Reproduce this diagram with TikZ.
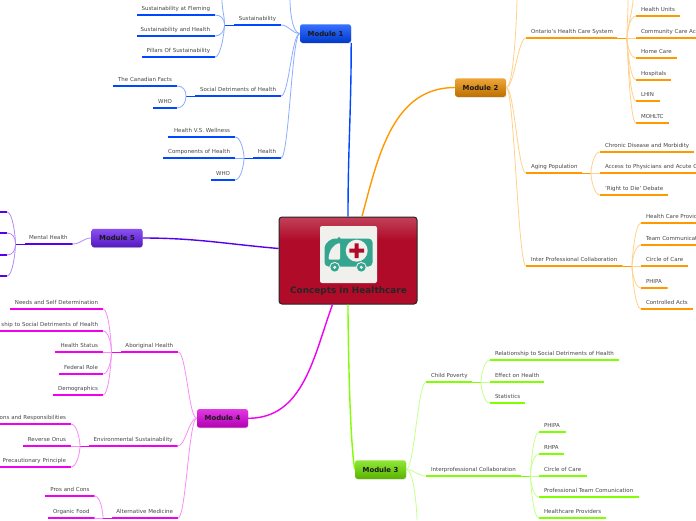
\documentclass[tikz,border=0pt]{standalone}
\usepackage{fontspec}
\setmainfont{DejaVu Sans}
\usepackage{xcolor}
\usetikzlibrary{shadows}
\definecolor{hcred}{RGB}{176,12,42}
\definecolor{hcteal}{RGB}{53,165,143}
\definecolor{hcpaper}{RGB}{240,240,236}
\definecolor{hcblue}{RGB}{0,72,255}
\definecolor{hcorange}{RGB}{255,153,0}
\definecolor{hcgreen}{RGB}{128,255,0}
\definecolor{hcmagenta}{RGB}{240,0,240}
\definecolor{hcpurple}{RGB}{85,0,238}
\pgfdeclareverticalshading{hcgloss}{100bp}{color(0bp)=(hcred);color(62bp)=(hcred);color(75bp)=(hcred!78!white);color(100bp)=(hcred!78!white)}
\begin{document}
\begin{tikzpicture}[
      x=1pt, y=-1pt,
      core/.style={draw=black!85, line width=1pt, rounded corners=3pt, shading=hcgloss,
                   minimum width=138pt, minimum height=87pt, inner sep=0pt},
      coretitle/.style={font=\fontsize{8.9}{10}\selectfont\bfseries, text=black!85, inner sep=0pt},
      mod/.style={rounded corners=2.5pt, top color=#1!78!white, bottom color=#1!80!black,
                  drop shadow={shadow xshift=0.4pt, shadow yshift=-0.8pt, opacity=0.3},
                  minimum width=51pt, minimum height=18.5pt, inner sep=0pt,
                  text=black!90, font=\fontsize{6.9}{8}\selectfont\bfseries},
      under/.style={path picture={\fill[brc] (path picture bounding box.south west) rectangle
                    ([yshift=2pt]path picture bounding box.south east);}},
      tpc/.style={under, text width=#1pt-10pt, inner xsep=5pt, inner ysep=4.3pt,
                  outer xsep=0pt, outer ysep=-1pt, text height=4.1pt, text depth=1pt,
                  text=black!72, font=\fontsize{5.5}{6.5}\selectfont},
      tpcr/.style={tpc=#1, anchor=south west,
                   execute at begin node={\hbox to \hsize\bgroup},
                   execute at end node={\hss\egroup}},
      tpcl/.style={tpc=#1, anchor=south east,
                   execute at begin node={\hbox to \hsize\bgroup\hss},
                   execute at end node={\egroup}},
      arr/.style={brc, line width=1.4pt},
      stub/.style={brc, line width=0.8pt},
      lnk/.style={brc!45!white, line width=0.8pt},
      lnkl/.style={lnk, out=180, in=0, distance=8pt},
      lnkr/.style={lnk, out=0, in=180, distance=8pt},
      arcul/.style={lnk, out=90, in=0, distance=6pt},
      arcdl/.style={lnk, out=-90, in=0, distance=6pt},
      arcur/.style={lnk, out=90, in=180, distance=6pt},
      arcdr/.style={lnk, out=-90, in=180, distance=6pt}
    ]
    \path[use as bounding box, clip] (0,0) rectangle (696,520);
    \fill[white] (0,0) rectangle (696,520);

    \node[core] (core) at (348,260.5) {};
    \node[coretitle] (coretitle) at (348.5,291) {Concepts in Healthcare};

    \fill[hcpaper, rounded corners=2pt] (320,226) rectangle (377,283);
    \fill[hcteal] (339,238.5) circle (1.6);
    \fill[hcteal, rounded corners=4pt] (324.5,266.5) -- (324.5,251) .. controls (325,243) and (331,238.5) .. (339,238.5) -- (372.5,238.5) -- (372.5,266.5) -- cycle;
    \fill[hcpaper, rounded corners=1pt] (328.5,259.5) .. controls (329,250) and (334,244) .. (340,243) -- (340,259.5) -- cycle;
    \fill[hcpaper] (356.7,250.7) circle (11);
    \fill[hcred] (354.7,243.4) rectangle (358.7,258) (349.4,248.7) rectangle (364,252.7);
    \fill[hcpaper] (334.7,267.3) circle (5.4) (361.3,267.3) circle (5.4);
    \fill[hcteal] (334.7,267.3) circle (4.3) (361.3,267.3) circle (4.3);
    \fill[hcpaper] (334.7,267.3) circle (1.7) (361.3,267.3) circle (1.7);

    \colorlet{brc}{hcblue}
    \node[mod=hcblue] (mod1) at (325.5,33.5) {Module 1};
    \draw[arr] (core.north) to[out=90, in=-90] (mod1.south east);

    \coordinate (sustup) at (290,0);
    \node[tpcl=47] (sust) at (281,25) {Sustainability};
    \node[tpcl=86] (sdoh) at (281,96) {Social Detriments of Health};
    \node[tpcl=28] (hlth) at (281,158) {Health};
    \draw[lnk] (mod1.west) to[out=180, in=-90, distance=8pt] (sustup);
    \draw[lnkl] (mod1.west) to (sust.south east);
    \draw[lnkl] (mod1.west) to (sdoh.south east);
    \draw[lnkl] (mod1.west) to (hlth.south east);

    \coordinate (sustj) at (224.5,25);
    \coordinate (sustt) at (222,0);
    \node[tpcl=78] (fleming) at (215,15) {Sustainability at Fleming};
    \node[tpcl=78] (sushlth) at (215,36) {Sustainability and Health};
    \node[tpcl=73] (pillars) at (215,57) {Pillars Of Sustainability};
    \draw[stub] (sust.south west) -- (sustj);
    \draw[lnk] (sustj) to[out=90, in=-90] (sustt);
    \draw[arcul] (sustj) to (fleming.south east);
    \draw[arcdl] (sustj) to (sushlth.south east);
    \draw[arcdl] (sustj) to (pillars.south east);

    \coordinate (sdohj) at (186,96);
    \node[tpcl=64] (facts) at (177,86) {The Canadian Facts};
    \node[tpcl=24] (sdwho) at (177,108) {WHO};
    \draw[stub] (sdoh.south west) -- (sdohj);
    \draw[arcul] (sdohj) to (facts.south east);
    \draw[arcdl] (sdohj) to (sdwho.south east);

    \coordinate (hlthj) at (244,158);
    \node[tpcl=67] (wellness) at (235,137) {Health V.S. Wellness};
    \node[tpcl=72] (comps) at (235,158) {Components of Health};
    \node[tpcl=24] (hlwho) at (235,180) {WHO};
    \draw[stub] (hlth.south west) -- (hlthj);
    \draw[arcul] (hlthj) to (wellness.south east);
    \draw[lnk] (hlthj) -- (comps.south east);
    \draw[arcdl] (hlthj) to (hlwho.south east);

    \colorlet{brc}{hcorange}
    \node[mod=hcorange!92!black] (mod2) at (480.5,87.5) {Module 2};
    \draw[arr] ([xshift=14pt]core.north) to[out=75, in=180] (mod2.west);

    \coordinate (careup) at (517,0);
    \node[tpcr=91] (ontario) at (526,38) {Ontario's Health Care System};
    \node[tpcr=56] (aging) at (526,173) {Aging Population};
    \node[tpcr=96.5] (ipc) at (526,266) {Inter Professional Collaboration};
    \draw[lnk] (mod2.east) to[out=0, in=-90, distance=8pt] (careup);
    \draw[lnkr] (mod2.east) to (ontario.south west);
    \draw[lnkr] (mod2.east) to (aging.south west);
    \draw[lnkr] (mod2.east) to (ipc.south west);

    \coordinate (ontj) at (627,38);
    \coordinate (ontup) at (628,0);
    \coordinate (ontupb) at (633,0);
    \node[tpcr=44] (units) at (636,16) {Health Units};
    \node[tpcr=60] (ccac) at (636,38) {Community Care Ac};
    \node[tpcr=41] (homecare) at (636,58) {Home Care};
    \node[tpcr=35] (hospitals) at (636,80) {Hospitals};
    \node[tpcr=24] (lhin) at (636,101) {LHIN};
    \node[tpcr=33] (mohltc) at (636,123) {MOHLTC};
    \draw[stub] (ontario.south east) -- (ontj);
    \draw[lnk] (ontj) to[out=90, in=-90] (ontup);
    \draw[lnk] (ontj) to[out=90, in=-90, distance=8pt] (ontupb);
    \draw[arcur] (ontj) to (units.south west);
    \draw[lnk] (ontj) -- (ccac.south west);
    \draw[arcdr] (ontj) to (homecare.south west);
    \draw[arcdr] (ontj) to (hospitals.south west);
    \draw[arcdr] (ontj) to (lhin.south west);
    \draw[arcdr] (ontj) to (mohltc.south west);

    \coordinate (agej) at (591,173);
    \node[tpcr=94] (chronic) at (600,152) {Chronic Disease and Morbidity};
    \node[tpcr=96] (access) at (600,173) {Access to Physicians and Acute C};
    \node[tpcr=68] (dying) at (600,195) {'Right to Die' Debate};
    \draw[stub] (aging.south east) -- (agej);
    \draw[arcur] (agej) to (chronic.south west);
    \draw[lnk] (agej) -- (access.south west);
    \draw[arcdr] (agej) to (dying.south west);

    \coordinate (ipcj) at (632,266);
    \node[tpcr=55] (hcprov) at (641,223) {Health Care Provid};
    \node[tpcr=55] (teamcom) at (641,245) {Team Communicat};
    \node[tpcr=47] (circle) at (641,266) {Circle of Care};
    \node[tpcr=26.5] (phipa) at (641,288) {PHIPA};
    \node[tpcr=52] (acts) at (641,309) {Controlled Acts};
    \draw[stub] (ipc.south east) -- (ipcj);
    \draw[arcur] (ipcj) to (hcprov.south west);
    \draw[arcur] (ipcj) to (teamcom.south west);
    \draw[lnk] (ipcj) -- (circle.south west);
    \draw[arcdr] (ipcj) to (phipa.south west);
    \draw[arcdr] (ipcj) to (acts.south west);

    \colorlet{brc}{hcgreen}
    \node[mod=hcgreen!88!black] (mod3) at (380.5,469.5) {Module 3};
    \draw[arr] (core.south) to[out=-90, in=100, distance=30pt] (mod3.west);

    \coordinate (mod3dn) at (417,520);
    \node[tpcr=46] (child) at (426,382) {Child Poverty};
    \node[tpcr=95] (interpro) at (426,476) {Interprofessional Collaboration};
    \draw[lnkr] (mod3.east) to (child.south west);
    \draw[lnkr] (mod3.east) to (interpro.south west);
    \draw[lnk] (mod3.east) to[out=0, in=90, distance=8pt] (mod3dn);

    \coordinate (childj) at (481,382);
    \node[tpcr=129] (cprel) at (490,360) {Relationship to Social Detriments of Health};
    \node[tpcr=54] (cpeff) at (490,382) {Effect on Health};
    \node[tpcr=35] (cpstat) at (490,403) {Statistics};
    \draw[stub] (child.south east) -- (childj);
    \draw[arcur] (childj) to (cprel.south west);
    \draw[lnk] (childj) -- (cpeff.south west);
    \draw[arcdr] (childj) to (cpstat.south west);

    \coordinate (interj) at (530.5,476);
    \node[tpcr=27] (inphipa) at (539,432) {PHIPA};
    \node[tpcr=25] (inrhpa) at (539,454) {RHPA};
    \node[tpcr=48] (incircle) at (539,476) {Circle of Care};
    \node[tpcr=100] (inteam) at (539,497) {Professional Team Comunication};
    \node[tpcr=67] (inprov) at (539,518) {Healthcare Providers};
    \draw[stub] (interpro.south east) -- (interj);
    \draw[arcur] (interj) to (inphipa.south west);
    \draw[arcur] (interj) to (inrhpa.south west);
    \draw[lnk] (interj) -- (incircle.south west);
    \draw[arcdr] (interj) to (inteam.south west);
    \draw[arcdr] (interj) to (inprov.south west);

    \colorlet{brc}{hcmagenta}
    \node[mod=hcmagenta!92!black] (mod4) at (222.5,418.3) {Module 4};
    \draw[arr] ([xshift=-15.5pt]core.south) to[out=-110, in=0] (mod4.east);

    \node[tpcl=57.5] (abor) at (178.2,352) {Aboriginal Health};
    \node[tpcl=88.7] (envs) at (177.7,446) {Environmental Sustainability};
    \node[tpcl=66] (altm) at (178,518) {Alternative Medicine};
    \draw[lnkl] (mod4.west) to (abor.south east);
    \draw[lnkl] (mod4.west) to (envs.south east);
    \draw[lnkl] (mod4.west) to (altm.south east);

    \coordinate (aborj) at (111.5,352);
    \node[tpcl=93] (needs) at (103,309) {Needs and Self Determination};
    \node[tpcl=103] (abrel) at (103,331) {ship to Social Detriments of Health};
    \node[tpcl=48] (status) at (103,352) {Health Status};
    \node[tpcl=44] (federal) at (103,374) {Federal Role};
    \node[tpcl=50] (demog) at (103,395) {Demographics};
    \draw[stub] (abor.south west) -- (aborj);
    \draw[arcul] (aborj) to (needs.south east);
    \draw[arcul] (aborj) to (abrel.south east);
    \draw[lnk] (aborj) -- (status.south east);
    \draw[arcdl] (aborj) to (federal.south east);
    \draw[arcdl] (aborj) to (demog.south east);

    \coordinate (envsj) at (80,446);
    \node[tpcl=71] (rights) at (71,424) {ons and Responsibilities};
    \node[tpcl=48] (onus) at (71,446) {Reverse Onus};
    \node[tpcl=71] (precaut) at (71,467) {Precautionary Principle};
    \draw[stub] (envs.south west) -- (envsj);
    \draw[arcul] (envsj) to (rights.south east);
    \draw[lnk] (envsj) -- (onus.south east);
    \draw[arcdl] (envsj) to (precaut.south east);

    \coordinate (altmj) at (103,518);
    \node[tpcl=50] (proscons) at (94.5,496) {Pros and Cons};
    \node[tpcl=46.5] (organic) at (94.5,518) {Organic Food};
    \draw[stub] (altm.south west) -- (altmj);
    \draw[arcul] (altmj) to (proscons.south east);
    \draw[lnk] (altmj) -- (organic.south east);

    \colorlet{brc}{hcpurple}
    \node[mod=hcpurple!88!white] (mod5) at (117,238) {Module 5};
    \draw[arr] ([yshift=12pt]core.west) to[out=175, in=0] (mod5.east);

    \node[tpcl=47.7] (mental) at (72.7,244) {Mental Health};
    \draw[lnkl] (mod5.west) to (mental.south east);

    \coordinate (mentj) at (15.5,244);
    \node[tpcl=20] (menta) at (7,212) {};
    \node[tpcl=20] (mentb) at (7,233) {};
    \node[tpcl=20] (mentc) at (7,255) {};
    \node[tpcl=20] (mentd) at (7,276) {};
    \draw[stub] (mental.south west) -- (mentj);
    \draw[arcul] (mentj) to (menta.south east);
    \draw[arcul] (mentj) to (mentb.south east);
    \draw[arcdl] (mentj) to (mentc.south east);
    \draw[arcdl] (mentj) to (mentd.south east);
  \end{tikzpicture}
\end{document}
